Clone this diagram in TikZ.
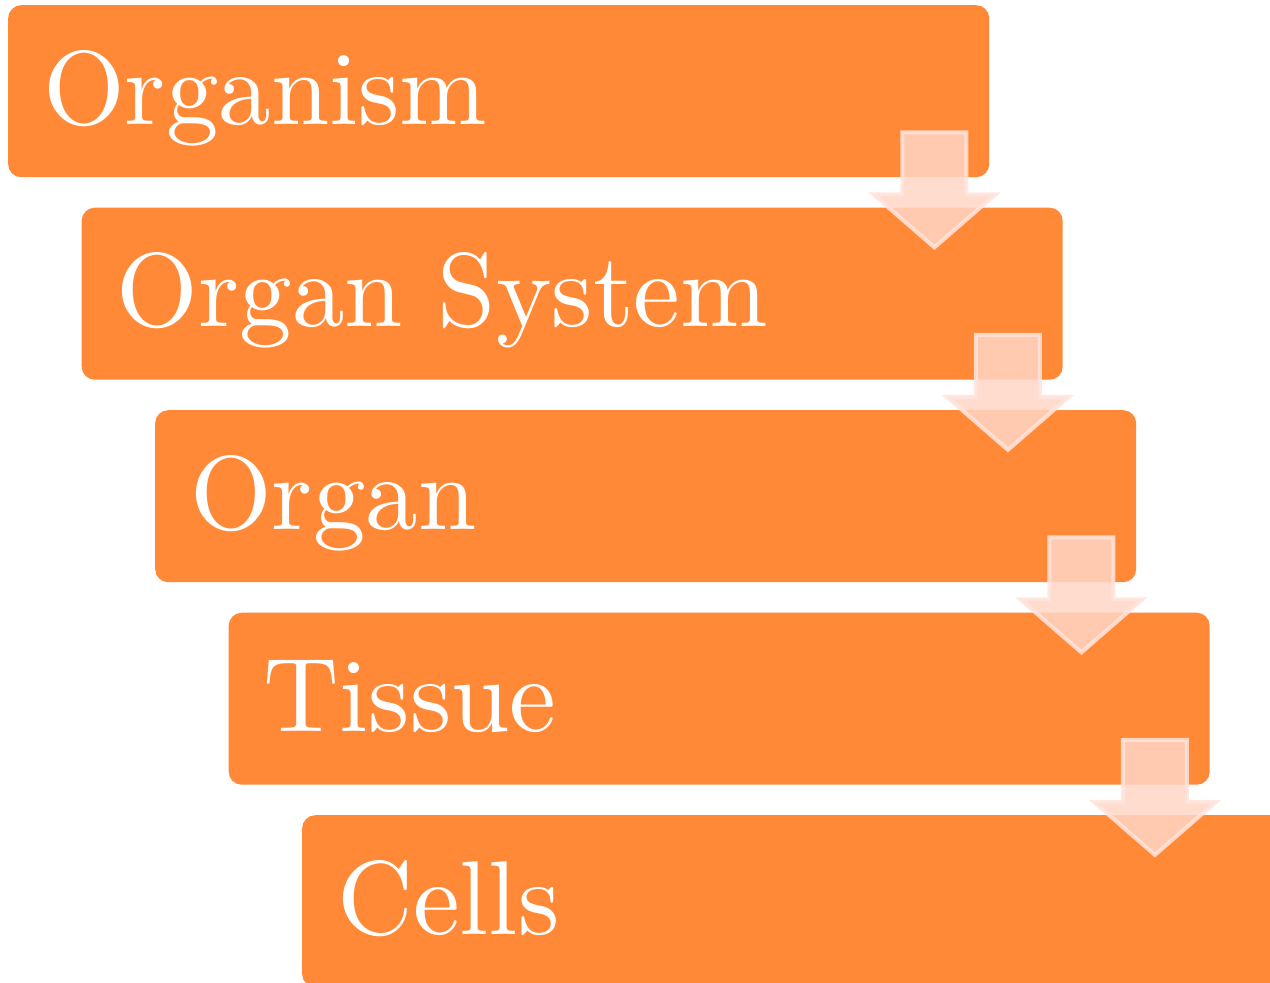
\documentclass[tikz,border=0pt]{standalone}
\usepackage{fontspec}
\newfontfamily\tenfont{lmroman10-regular.otf}
\usetikzlibrary{calc}
\definecolor{boxorange}{RGB}{255,137,55}
\definecolor{arrowfill}{RGB}{255,214,198}
\definecolor{arrowline}{RGB}{255,228,220}
\begin{document}
\begin{tikzpicture}[x=1pt,y=-1pt,
  stepbox/.style={fill=boxorange, rounded corners=13pt, minimum width=981pt, minimum height=172pt, anchor=north west, inner sep=0pt},
  steplabel/.style={anchor=base west, inner sep=0pt, text=white, font=\tenfont\fontsize{105}{120}\selectfont},
  downarrow/.style={fill=arrowfill, draw=arrowline, line width=4pt, fill opacity=0.85, draw opacity=0.85, line join=miter}]
\useasboundingbox (0,0) rectangle (1270,983);
\clip (0,0) rectangle (1270,983);
\foreach \i/\t in {1/Organism,2/Organ System,3/Organ,4/Tissue,5/Cells}{
  \node[stepbox] (b\i) at ({8+73.5*(\i-1)},{5+202.5*(\i-1)}) {};
  \node[steplabel] (t\i) at ($(b\i.north west)+(35,119)$) {\t};
}
\foreach \i/\j in {1/2,2/3,3/4,4/5}{
  \coordinate (c\i) at ($(b\i.south east)+(-55,0)$);
  \draw[downarrow] ($(c\i)+(-32,-45)$) -- ($(c\i)+(32,-45)$) -- ($(c\i)+(32,17)$) -- ($(c\i)+(61,17)$)
     -- ($(c\i)+(0,70)$) -- ($(c\i)+(-61,17)$) -- ($(c\i)+(-32,17)$) -- cycle;
}
\end{tikzpicture}
\end{document}
